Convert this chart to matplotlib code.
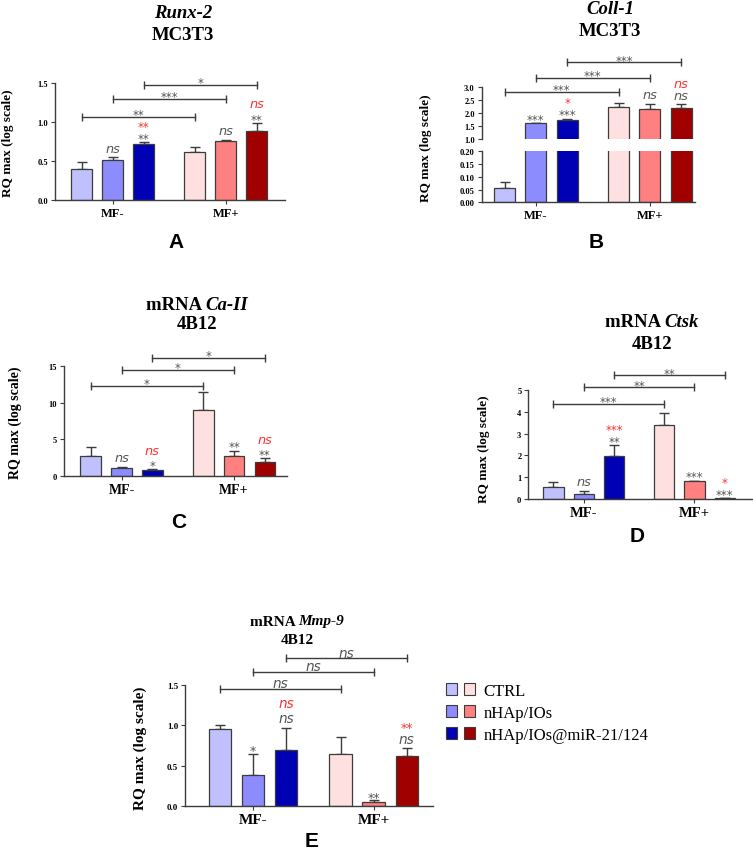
import numpy as np
import matplotlib
matplotlib.use("Agg")
import matplotlib.pyplot as plt
from matplotlib.patches import Patch
from matplotlib.legend_handler import HandlerTuple

W, H = 753, 854

groups = ["MF-", "MF+"]
treatments = ["CTRL", "nHAp/IOs", "nHAp/IOs@miR-21/124"]

# bar order: CTRL, nHAp/IOs, nHAp/IOs@miR (MF-) then the same for MF+
runx2_mean = [0.39, 0.51, 0.72, 0.62, 0.76, 0.89]
runx2_sd = [0.10, 0.04, 0.02, 0.06, 0.01, 0.10]
runx2_gray = ["", "ns", "**", "", "ns", "**"]
runx2_red = ["", "", "**", "", "", "ns"]
runx2_brk = ["**", "***", "*"]
runx2_brk_y = [1.07, 1.30, 1.48]

coll1_mean = [0.057, 1.60, 1.72, 2.22, 2.17, 2.19]
coll1_sd = [0.021, 0.03, 0.07, 0.16, 0.20, 0.16]
coll1_gray = ["", "***", "***", "", "ns", "ns"]
coll1_red = ["", "", "*", "", "", "ns"]
coll1_brk = ["***", "***", "***"]
coll1_brk_y = [2.81, 3.36, 3.97]

ca2_mean = [2.66, 1.0, 0.74, 9.0, 2.66, 1.83]
ca2_sd = [1.24, 0.2, 0.16, 2.5, 0.79, 0.57]
ca2_gray = ["", "ns", "*", "", "**", "**"]
ca2_red = ["", "", "ns", "", "", "ns"]
ca2_brk = ["*", "*", "*"]
ca2_brk_y = [12.35, 14.5, 16.2]

ctsk_mean = [0.54, 0.21, 1.99, 3.41, 0.84, 0.03]
ctsk_sd = [0.23, 0.17, 0.50, 0.53, 0.0, 0.0]
ctsk_gray = ["", "ns", "**", "", "***", "***"]
ctsk_red = ["", "", "***", "", "", "*"]
ctsk_brk = ["***", "**", "**"]
ctsk_brk_y = [4.36, 5.12, 5.67]

mmp9_mean = [0.955, 0.39, 0.695, 0.64, 0.053, 0.62]
mmp9_sd = [0.055, 0.255, 0.275, 0.21, 0.017, 0.10]
mmp9_gray = ["", "*", "ns", "", "**", "ns"]
mmp9_red = ["", "", "ns", "", "", "**"]
mmp9_brk = ["ns", "ns", "ns"]
mmp9_brk_y = [1.45, 1.66, 1.83]

blues = ["#c0c0ff", "#8c8cff", "#0000b4"]
reds = ["#ffe0e0", "#ff8080", "#a00000"]
colors = blues + reds
EDGE = "#3c3c3c"
GRAY = "#555555"
RED = "#ff3030"
SERIF = "Liberation Serif"

xpos = np.array([0, 1, 2, 3.65, 4.65, 5.65])

fig = plt.figure(figsize=(W / 100, H / 100), dpi=100)


def px_axes(left, right, top, bottom):
    return fig.add_axes([left / W, 1 - bottom / H, (right - left) / W, (bottom - top) / H])


def style(ax, xlim, ylim, yticks, fmt, tsize, xsize, show_x=True):
    ax.set_xlim(xlim)
    ax.set_ylim(ylim)
    for s in ["top", "right"]:
        ax.spines[s].set_visible(False)
    for s in ["left", "bottom"]:
        ax.spines[s].set_color(EDGE)
        ax.spines[s].set_linewidth(1)
    ax.set_yticks(yticks)
    ax.set_yticklabels([fmt.format(v) for v in yticks], fontsize=tsize,
                       fontweight="bold", family=SERIF)
    if show_x:
        ax.set_xticks([xpos[1], xpos[4]])
        ax.set_xticklabels(groups, fontsize=xsize, fontweight="bold", family=SERIF)
    else:
        ax.spines["bottom"].set_visible(False)
        ax.set_xticks([])
    ax.tick_params(length=3, width=0.8, color=EDGE, pad=2)


def draw_bars(ax, mean, sd):
    ax.bar(xpos, mean, width=0.67, color=colors, edgecolor=EDGE, linewidth=0.9, zorder=2)
    ax.errorbar(xpos, mean, yerr=[np.zeros(6), sd], fmt="none", ecolor=EDGE,
                elinewidth=1, capsize=3.5, capthick=1, zorder=1)


def put_text(ax, x, y, txt, col, dy, size):
    ns = txt == "ns"
    if ns:
        size = size + 0.8
    em = size * 100 / 72
    mid = 0.27 * em if ns else 0.575 * em
    ax.annotate(txt, (x, y), xytext=(0, dy - mid), textcoords="offset pixels",
                ha="center", va="baseline", color=col, fontsize=size,
                fontstyle="italic" if ns else "normal", family="DejaVu Sans",
                annotation_clip=False)


def marks(ax, mean, sd, gray, red, size=8.5, step=12):
    for i in range(len(mean)):
        top = mean[i] + sd[i]
        center = None
        for txt, col in [(gray[i], GRAY), (red[i], RED)]:
            if not txt:
                continue
            if center is None:
                center = 9 if txt == "ns" else 7
            else:
                center += step
            put_text(ax, xpos[i], top, txt, col, center, size)


def brackets(ax, labels, heights, size=8.5):
    for k, (lab, h) in enumerate(zip(labels, heights)):
        x0, x1 = xpos[k], xpos[k + 3]
        ax.plot([x0, x1], [h, h], color=EDGE, lw=1, clip_on=False)
        ax.plot([x0, x1], [h, h], ls="none", marker="|", ms=6, mew=1, color=EDGE, clip_on=False)
        put_text(ax, (x0 + x1) / 2, h, lab, GRAY, 5.5, size)


def title(cx, y1, y2, plain, ital, line2, size):
    r = fig.canvas.get_renderer()
    kw = dict(fontsize=size, fontweight="bold", family=SERIF, va="center")
    t1 = fig.text(0, 1 - y1 / H, plain, **kw)
    t2 = fig.text(0, 1 - y1 / H, ital, fontstyle="italic", **kw)
    w1 = t1.get_window_extent(r).width if plain else 0
    w2 = t2.get_window_extent(r).width
    x0 = cx - (w1 + w2) / 2
    t1.set_x(x0 / W)
    t2.set_x((x0 + w1) / W)
    fig.text(cx / W, 1 - y2 / H, line2, ha="center", **kw)


def ylab(x, y, size):
    fig.text(x / W, 1 - y / H, "RQ max (log scale)", rotation=90, ha="center", va="center",
             fontsize=size, fontweight="bold", family=SERIF)


def letter(x, y, s):
    fig.text(x / W, 1 - y / H, s, ha="center", va="center", fontsize=15,
             fontweight="bold", family="Liberation Sans")


# A - Runx-2
ax = px_axes(55, 285, 84.3, 200.7)
draw_bars(ax, runx2_mean, runx2_sd)
style(ax, (-0.855, 6.56), (0, 1.5), [0, 0.5, 1.0, 1.5], "{:.1f}", 6, 9)
marks(ax, runx2_mean, runx2_sd, runx2_gray, runx2_red)
brackets(ax, runx2_brk, runx2_brk_y)
title(183, 13, 35, "", "Runx-2", "MC3T3", 13.5)
ylab(8, 143, 9.5)
letter(176, 243, "A")

# B - Coll-1 (broken y axis)
axu = px_axes(481.7, 695, 88.3, 140)
axl = px_axes(481.7, 695, 152.3, 203.3)
draw_bars(axu, coll1_mean, coll1_sd)
draw_bars(axl, coll1_mean, coll1_sd)
style(axu, (-0.73, 6.09), (1.0, 3.0), [1.0, 1.5, 2.0, 2.5, 3.0], "{:.1f}", 6, 9, show_x=False)
style(axl, (-0.73, 6.09), (0, 0.2), [0, 0.05, 0.10, 0.15, 0.20], "{:.2f}", 6, 9)
marks(axu, coll1_mean, coll1_sd, coll1_gray, coll1_red)
brackets(axu, coll1_brk, coll1_brk_y)
title(610, 10, 32, "", "Coll-1", "MC3T3", 13.5)
ylab(426, 148, 9.5)
letter(596, 243, "B")

# C - Ca-II
ax = px_axes(64, 287, 367.3, 476.7)
draw_bars(ax, ca2_mean, ca2_sd)
style(ax, (-0.87, 6.37), (0, 15), [0, 5, 10, 15], "{:.0f}", 6, 10)
marks(ax, ca2_mean, ca2_sd, ca2_gray, ca2_red)
brackets(ax, ca2_brk, ca2_brk_y)
title(197, 305, 325, "mRNA ", "Ca-II", "4B12", 13.5)
ylab(15, 423, 10)
letter(179, 522, "C")

# D - Ctsk
ax = px_axes(528.3, 752, 391, 500)
draw_bars(ax, ctsk_mean, ctsk_sd)
style(ax, (-0.83, 6.55), (0, 5), [0, 1, 2, 3, 4, 5], "{:.0f}", 6, 10.5)
marks(ax, ctsk_mean, ctsk_sd, ctsk_gray, ctsk_red)
brackets(ax, ctsk_brk, ctsk_brk_y)
title(652, 323, 345, "mRNA ", "Ctsk", "4B12", 13.5)
ylab(484, 449, 9.5)
letter(637, 537, "D")

# E - Mmp-9
ax = px_axes(185, 433, 686, 807)
draw_bars(ax, mmp9_mean, mmp9_sd)
style(ax, (-1.06, 6.45), (0, 1.5), [0, 0.5, 1.0, 1.5], "{:.1f}", 6.5, 11)
marks(ax, mmp9_mean, mmp9_sd, mmp9_gray, mmp9_red, size=9, step=15)
brackets(ax, mmp9_brk, mmp9_brk_y, size=9)
title(297, 622, 640, "mRNA ", "Mmp-9", "4B12", 11)
ylab(140, 748, 11)
letter(312, 842, "E")

# legend with paired blue/red squares
handles = [(Patch(facecolor=b, edgecolor=EDGE, lw=0.8), Patch(facecolor=r, edgecolor=EDGE, lw=0.8))
           for b, r in zip(blues, reds)]
fig.legend(handles, treatments, handler_map={tuple: HandlerTuple(ndivide=None, pad=0.4)},
           loc="upper left", bbox_to_anchor=(446 / W, 1 - 684 / H), frameon=False,
           borderpad=0, borderaxespad=0, handlelength=1.75, handleheight=0.7,
           handletextpad=0.5, labelspacing=0.35, prop={"family": SERIF, "size": 12})

fig.savefig("out.png", dpi=100)
